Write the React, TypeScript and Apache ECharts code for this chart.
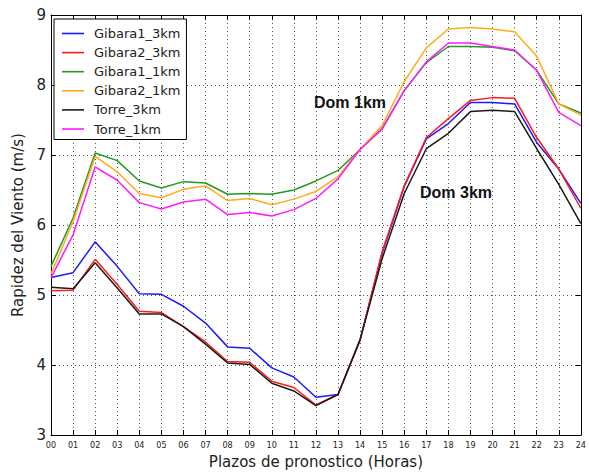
import React, { useEffect, useRef } from "react";
import * as echarts from "echarts";

const hours = ["00","01","02","03","04","05","06","07","08","09","10","11","12","13","14","15","16","17","18","19","20","21","22","23","24"];
const yTicks = [3, 4, 5, 6, 7, 8, 9];

const gibara1_3km = [5.25, 5.32, 5.76, 5.41, 5.02, 5.01, 4.84, 4.60, 4.26, 4.24, 3.96, 3.83, 3.54, 3.58, 4.36, 5.60, 6.55, 7.23, 7.45, 7.75, 7.75, 7.73, 7.18, 6.80, 6.31];
const gibara2_3km = [5.06, 5.07, 5.51, 5.15, 4.77, 4.75, 4.55, 4.33, 4.05, 4.04, 3.77, 3.68, 3.43, 3.58, 4.36, 5.62, 6.56, 7.25, 7.52, 7.78, 7.82, 7.81, 7.25, 6.80, 6.24];
const gibara1_1km = [5.41, 6.10, 7.03, 6.92, 6.63, 6.53, 6.62, 6.60, 6.44, 6.45, 6.44, 6.50, 6.63, 6.78, 7.08, 7.38, 7.92, 8.32, 8.55, 8.55, 8.54, 8.49, 8.21, 7.73, 7.60];
const gibara2_1km = [5.30, 6.05, 6.98, 6.76, 6.45, 6.39, 6.51, 6.56, 6.35, 6.38, 6.29, 6.37, 6.48, 6.69, 7.08, 7.42, 8.05, 8.53, 8.80, 8.82, 8.80, 8.76, 8.41, 7.73, 7.57];
const torre_3km = [5.11, 5.09, 5.46, 5.10, 4.73, 4.73, 4.55, 4.30, 4.03, 4.01, 3.74, 3.63, 3.42, 3.58, 4.36, 5.52, 6.45, 7.09, 7.31, 7.62, 7.64, 7.62, 7.09, 6.58, 6.02];
const torre_1km = [5.25, 5.86, 6.83, 6.64, 6.32, 6.23, 6.33, 6.37, 6.15, 6.18, 6.13, 6.22, 6.38, 6.66, 7.08, 7.37, 7.92, 8.33, 8.60, 8.60, 8.55, 8.50, 8.21, 7.61, 7.42];

const seriesNames = ["Gibara1_3km", "Gibara2_3km", "Gibara1_1km", "Gibara2_1km", "Torre_3km", "Torre_1km"];
const seriesData = [gibara1_3km, gibara2_3km, gibara1_1km, gibara2_1km, torre_3km, torre_1km];
const seriesColors = ["#1a1aff", "#ff1a1a", "#229922", "#ffab1a", "#1a1a1a", "#ff1aff"];

const annotations = [
  { text: "Dom 1km", x: 350, y: 102 },
  { text: "Dom 3km", x: 456, y: 192 },
];

const FONT = "DejaVu Sans";
const LINE_ICON = "path://M0,0 L22,0 L22,1.6 L0,1.6 Z";

export default function App() {
  const ref = useRef<HTMLDivElement>(null);

  useEffect(() => {
    document.body.style.margin = "0";
    if (!ref.current) return;
    const chart = echarts.init(ref.current, null, { renderer: "svg" });

    const tickCommon = {
      axisLine: { show: true, lineStyle: { color: "#000", width: 1 } },
      axisTick: { show: true, inside: true, length: 5, lineStyle: { color: "#000", width: 1 } },
    };

    const option: any = {
      animation: false,
      backgroundColor: "#fff",
      grid: { left: 51, right: 3, top: 15, bottom: 36, containLabel: false },
      legend: {
        orient: "vertical",
        left: 54,
        top: 19,
        padding: [7, 6, 3, 8],
        itemWidth: 22,
        itemHeight: 14,
        itemGap: 4.1,
        symbolKeepAspect: true,
        backgroundColor: "#fff",
        borderColor: "#000",
        borderWidth: 1,
        borderRadius: 0,
        textStyle: { fontFamily: FONT, fontSize: 13, color: "#222", padding: [0, 0, 0, 5], lineHeight: 15 },
        data: seriesNames.map((n, i) => ({ name: n, icon: LINE_ICON, itemStyle: { color: seriesColors[i] } })),
      },
      xAxis: [
        {
          type: "category",
          data: hours,
          boundaryGap: false,
          ...tickCommon,
          axisTick: { ...tickCommon.axisTick, alignWithLabel: true },
          axisLabel: { fontFamily: "DejaVu Sans Condensed", fontSize: 9, color: "#222", margin: 5, interval: 0 },
          splitLine: { show: true, lineStyle: { color: "#555", width: 1, type: [1, 3] } },
          name: "Plazos de pronostico (Horas)",
          nameLocation: "middle",
          nameGap: 18,
          nameTextStyle: { fontFamily: FONT, fontSize: 15, color: "#222" },
        },
        {
          type: "category",
          data: hours,
          boundaryGap: false,
          position: "top",
          ...tickCommon,
          axisLabel: { show: false },
          splitLine: { show: false },
        },
      ],
      yAxis: [
        {
          type: "value",
          min: yTicks[0],
          max: yTicks[yTicks.length - 1],
          interval: 1,
          ...tickCommon,
          axisLabel: { fontFamily: FONT, fontSize: 15, color: "#222", margin: 5 },
          splitLine: { show: true, lineStyle: { color: "#555", width: 1, type: [1, 3] } },
          name: "Rapidez del Viento (m/s)",
          nameLocation: "middle",
          nameGap: 23,
          nameRotate: 90,
          nameTextStyle: { fontFamily: FONT, fontSize: 15, color: "#222" },
        },
        {
          type: "value",
          min: yTicks[0],
          max: yTicks[yTicks.length - 1],
          interval: 1,
          position: "right",
          ...tickCommon,
          axisLabel: { show: false },
          splitLine: { show: false },
        },
      ],
      series: seriesNames.map((name, i) => ({
        name,
        type: "line",
        data: seriesData[i],
        symbol: "none",
        showSymbol: false,
        color: seriesColors[i],
        lineStyle: { color: seriesColors[i], width: 1.5 },
        itemStyle: { color: seriesColors[i] },
        xAxisIndex: 0,
        yAxisIndex: 0,
      })),
      graphic: annotations.map((a) => ({
        type: "text",
        x: a.x,
        y: a.y,
        style: {
          text: a.text,
          fontFamily: "Liberation Sans",
          fontWeight: "bold",
          fontSize: 16,
          fill: "#111",
          align: "center",
          verticalAlign: "middle",
        },
      })),
    };

    chart.setOption(option);
    return () => chart.dispose();
  }, []);

  return <div ref={ref} style={{ position: "fixed", left: 0, top: 0, width: 589, height: 474 }} />;
}
